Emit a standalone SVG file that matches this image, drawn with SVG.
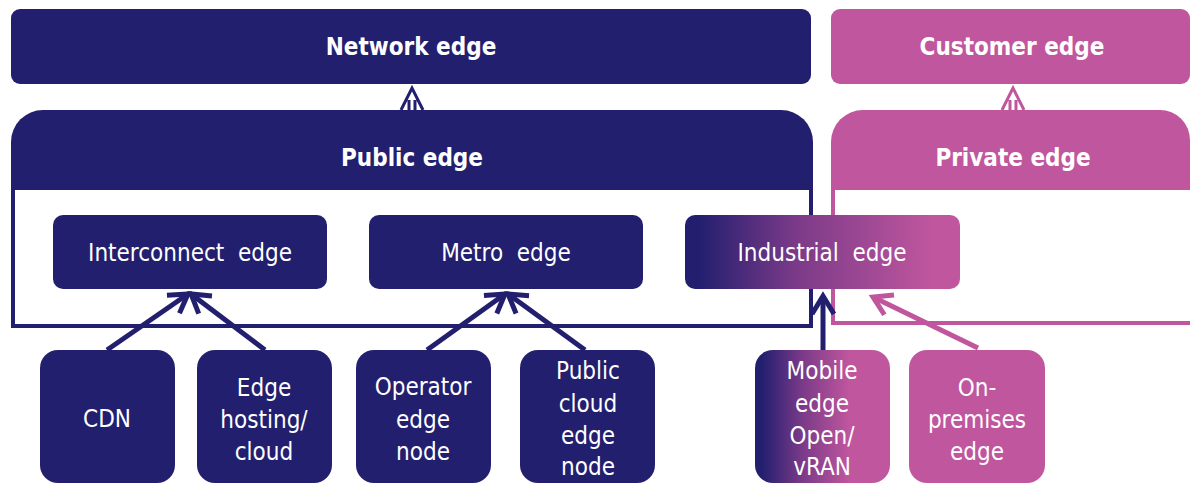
<svg xmlns="http://www.w3.org/2000/svg" width="1190" height="484" viewBox="0 0 1190 484">
<style>
.navy{fill:#231F6F}
.pink{fill:#C0569E}
.hdr{font-family:"Liberation Sans Narrow","DejaVu Sans Condensed","Liberation Sans",sans-serif;font-weight:bold;font-size:24px;fill:#fff;text-anchor:middle;dominant-baseline:central}
.lbl{font-family:"Liberation Sans Narrow","DejaVu Sans Condensed","Liberation Sans",sans-serif;font-size:24px;fill:#fff;text-anchor:middle;dominant-baseline:central}
.out{fill:none;stroke-width:4}
.con{fill:none;stroke-width:5}
</style>
<defs>
<linearGradient id="gInd" x1="0" y1="0" x2="1" y2="0">
<stop offset="0.05" stop-color="#231F6F"/>
<stop offset="0.4" stop-color="#7A3A88"/>
<stop offset="0.9" stop-color="#C0569E"/>
</linearGradient>
<linearGradient id="gMob" x1="0" y1="0" x2="1" y2="0">
<stop offset="0.05" stop-color="#231F6F"/>
<stop offset="0.35" stop-color="#7A3A88"/>
<stop offset="0.7" stop-color="#C0569E"/>
</linearGradient>
<marker id="aN" markerUnits="userSpaceOnUse" markerWidth="30" markerHeight="30" viewBox="-22 -15 26 30" refX="0" refY="0" orient="auto">
<path d="M-18,-11 L0,0 L-18,11" fill="none" stroke="#231F6F" stroke-width="5"/>
</marker>
<marker id="aP" markerUnits="userSpaceOnUse" markerWidth="30" markerHeight="30" viewBox="-22 -15 26 30" refX="0" refY="0" orient="auto">
<path d="M-18,-11 L0,0 L-18,11" fill="none" stroke="#C0569E" stroke-width="5"/>
</marker>
</defs>

<g id="network-edge">
<rect class="navy" x="11" y="9" width="800" height="75" rx="9"/>
<text class="hdr" x="411" y="47">Network edge</text>
</g>
<g id="customer-edge">
<rect class="pink" x="831" y="9" width="359" height="75" rx="9"/>
<text class="hdr" x="1012" y="47">Customer edge</text>
</g>

<g id="public-edge">
<path class="out" stroke="#231F6F" d="M13,188 V326 H811 V188"/>
<path class="navy" d="M11,190 V142 A32,32 0 0 1 43,110 H781 A32,32 0 0 1 813,142 V190 Z"/>
<text class="hdr" x="412" y="158">Public edge</text>
</g>
<g id="private-edge">
<path class="out" stroke="#C0569E" d="M833,188 V323 H1190"/>
<path class="pink" d="M831,190 V142 A32,32 0 0 1 863,110 H1160 A30,30 0 0 1 1190,140 V190 Z"/>
<text class="hdr" x="1013" y="158">Private edge</text>
</g>

<g id="interconnect-edge">
<rect class="navy" x="53" y="215" width="274" height="74" rx="10"/>
<text class="lbl" x="190" y="253" xml:space="preserve">Interconnect  edge</text>
</g>
<g id="metro-edge">
<rect class="navy" x="369" y="215" width="274" height="74" rx="10"/>
<text class="lbl" x="506" y="253" xml:space="preserve">Metro  edge</text>
</g>
<g id="industrial-edge">
<rect fill="url(#gInd)" x="685" y="215" width="275" height="74" rx="10"/>
<text class="lbl" x="822" y="253" xml:space="preserve">Industrial  edge</text>
</g>

<g id="cdn">
<rect class="navy" x="40" y="350" width="135" height="133" rx="18"/>
<text class="lbl" x="107" y="419">CDN</text>
</g>
<g id="edge-hosting">
<rect class="navy" x="197" y="350" width="135" height="133" rx="18"/>
<text class="lbl" x="264" y="388">Edge</text>
<text class="lbl" x="264" y="420">hosting/</text>
<text class="lbl" x="264" y="452">cloud</text>
</g>
<g id="operator-edge-node">
<rect class="navy" x="356" y="350" width="135" height="133" rx="18"/>
<text class="lbl" x="423" y="387">Operator</text>
<text class="lbl" x="423" y="420">edge</text>
<text class="lbl" x="423" y="452">node</text>
</g>
<g id="public-cloud-edge-node">
<rect class="navy" x="520" y="350" width="135" height="133" rx="18"/>
<text class="lbl" x="588" y="371">Public</text>
<text class="lbl" x="588" y="404">cloud</text>
<text class="lbl" x="588" y="436">edge</text>
<text class="lbl" x="588" y="467">node</text>
</g>
<g id="mobile-edge">
<rect fill="url(#gMob)" x="755" y="350" width="135" height="133" rx="18"/>
<text class="lbl" x="822" y="371">Mobile</text>
<text class="lbl" x="822" y="404">edge</text>
<text class="lbl" x="822" y="436">Open/</text>
<text class="lbl" x="822" y="467">vRAN</text>
</g>
<g id="on-premises-edge">
<rect class="pink" x="909" y="350" width="136" height="133" rx="18"/>
<text class="lbl" x="977" y="388">On-</text>
<text class="lbl" x="977" y="420">premises</text>
<text class="lbl" x="977" y="452">edge</text>
</g>

<g id="connectors">
<path d="M401,110 L412,88 L423,110 M409,110 V100 M415,110 V100" fill="none" stroke="#231F6F" stroke-width="3"/>
<path d="M1002,110 L1013,88 L1024,110 M1010,110 V100 M1016,110 V100" fill="none" stroke="#C0569E" stroke-width="3"/>
<line class="con" stroke="#231F6F" x1="107" y1="350" x2="188" y2="294" marker-end="url(#aN)"/>
<line class="con" stroke="#231F6F" x1="265" y1="350" x2="191" y2="294" marker-end="url(#aN)"/>
<line class="con" stroke="#231F6F" x1="427" y1="350" x2="505" y2="294" marker-end="url(#aN)"/>
<line class="con" stroke="#231F6F" x1="585" y1="350" x2="508" y2="294" marker-end="url(#aN)"/>
<line class="con" stroke="#231F6F" x1="823" y1="350" x2="823" y2="296" marker-end="url(#aN)"/>
<line class="con" stroke="#C0569E" x1="978" y1="348" x2="873" y2="297" marker-end="url(#aP)"/>
</g>
</svg>
